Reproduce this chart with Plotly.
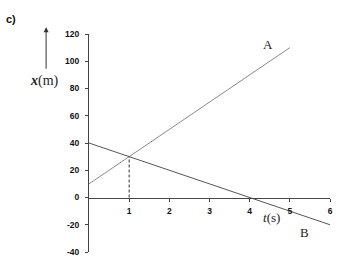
import plotly.graph_objects as go

# Data
t_A = [0, 5]
x_A = [10, 110]
t_B = [0, 6]
x_B = [40, -20]
t_meet = [1, 1]
x_meet = [0, 30]
x_ticks = [1, 2, 3, 4, 5, 6]
y_ticks = [-40, -20, 0, 20, 40, 60, 80, 100, 120]
y_ticktext = [str(v) for v in y_ticks]

fig = go.Figure()
fig.add_trace(go.Scatter(x=t_A, y=x_A, mode="lines",
                         line=dict(color="#8a8a8a", width=1), showlegend=False))
fig.add_trace(go.Scatter(x=t_B, y=x_B, mode="lines",
                         line=dict(color="#555555", width=1), showlegend=False))
fig.add_trace(go.Scatter(x=t_meet, y=x_meet, mode="lines",
                         line=dict(color="#333333", width=1, dash="3px,2px"), showlegend=False))

tickfont = dict(family="Liberation Sans, Arial", size=8.5, color="#111111", weight="bold")
fig.update_layout(
    width=341, height=264,
    margin=dict(l=89, r=11, t=34, b=7),
    paper_bgcolor="white", plot_bgcolor="white",
    xaxis=dict(range=[0, 6], tickvals=x_ticks, showgrid=False, zeroline=False,
               showline=True, linecolor="#444444", linewidth=1,
               ticks="outside", ticklen=3, tickcolor="#444444",
               anchor="free", position=0.25, tickfont=tickfont,
               ticklabelstandoff=2),
    yaxis=dict(range=[-40, 120], tickvals=y_ticks, ticktext=y_ticktext,
               showgrid=False, zeroline=False,
               showline=True, linecolor="#444444", linewidth=1,
               ticks="outside", ticklen=3, tickcolor="#444444",
               tickfont=tickfont, ticklabelstandoff=4),
    font=dict(family="Liberation Serif, Times New Roman", color="#222222"),
)

annos = [
    dict(x=4.45, y=112, text="A", font=dict(size=13, family="Liberation Serif")),
    dict(x=5.37, y=-26, text="B", font=dict(size=13, family="Liberation Serif")),
    dict(x=4.55, y=-14.5, text="<i>t</i>(s)", font=dict(size=13, family="Liberation Serif")),
]
for a in annos:
    fig.add_annotation(xref="x", yref="y", showarrow=False,
                       xanchor="center", yanchor="middle", **a)

fig.add_annotation(xref="paper", yref="paper", x=-0.183, y=0.785, showarrow=False,
                   xanchor="center", yanchor="middle",
                   text="<b><i>x</i></b>(m)", font=dict(size=14, family="Liberation Serif"))
fig.add_annotation(xref="paper", yref="paper", x=-0.323, y=1.07, showarrow=False,
                   xanchor="center", yanchor="middle",
                   text="<b>c)</b>", font=dict(size=11, family="Liberation Sans, Arial", color="#111111"))
fig.add_annotation(xref="paper", yref="paper", x=-0.178, y=1.031, ax=0, ay=43,
                   text="", showarrow=True, arrowhead=2,
                   arrowsize=1, arrowwidth=1, arrowcolor="#333333")

fig.write_html("out.html")
